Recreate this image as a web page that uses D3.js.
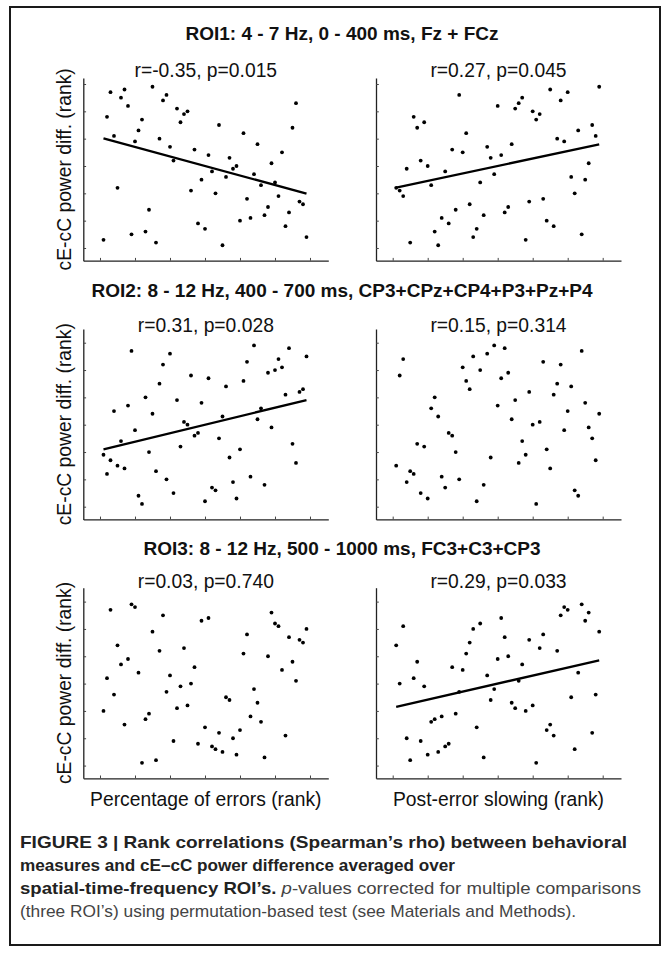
<!DOCTYPE html>
<html><head><meta charset="utf-8">
<script src="https://cdn.jsdelivr.net/npm/d3@7/dist/d3.min.js"></script>
<style>html,body{margin:0;padding:0;background:#fff;} svg{display:block;}</style>
</head><body>
<script>
// ---------------- DATA ----------------
const xRank = [1,2,3,4,5,6,7,8,9,10,11,12,13,14,15,16,17,18,19,20,21,22,23,24,25,26,27,28,29,30,
  31,32,33,34,35,36,37,38,39,40,41,42,43,44,45,46,47,48,49,50,51,52,53,54,55,56,57,58,59];
const roi1Errors  = [3,48,57,41,22,55,58,52,5,39,43,47,6,14,59,2,40,54,56,37,32,51,46,49,50,21,36,9,25,7,34,28,20,45,1,26,33,29,30,10,42,18,11,27,38,23,12,15,31,24,19,35,8,13,44,53,17,16,4];
const roi1Slowing = [22,21,19,29,2,48,44,32,46,30,23,6,1,11,28,9,36,14,56,35,42,16,4,7,24,12,37,33,27,52,34,13,15,38,51,53,55,3,17,50,47,49,18,10,58,8,40,54,39,57,26,20,43,5,25,31,45,41,59];
const roi2Errors  = [19,12,17,35,15,24,14,37,57,28,4,1,40,20,34,13,45,52,10,56,5,39,22,31,30,48,26,27,38,2,47,7,6,25,33,44,18,9,3,21,46,53,11,59,32,36,8,49,29,50,54,51,41,58,23,16,42,43,55];
const roi2Slowing = [15,48,54,9,13,12,23,5,22,3,36,40,33,11,7,27,26,20,10,51,46,43,55,2,50,8,56,18,59,37,47,58,49,32,39,16,24,19,42,30,1,31,53,21,14,41,45,52,28,35,44,6,4,57,38,29,25,17,34];
const roi3Errors  = [20,32,57,26,44,37,15,39,59,58,34,1,17,19,49,2,42,55,27,33,9,21,29,43,22,30,36,8,53,14,54,7,6,12,5,25,24,10,4,13,41,48,18,28,23,16,3,40,56,52,51,35,11,47,38,31,46,45,50];
const roi3Slowing = [44,30,51,10,2,32,38,9,29,4,16,17,5,18,7,8,36,19,27,35,41,45,50,14,52,3,33,24,28,39,54,47,40,23,21,31,37,20,46,22,1,43,48,13,15,11,42,55,58,57,25,6,34,59,53,56,12,26,49];

const roiTitles = ["ROI1: 4 - 7 Hz, 0 - 400 ms, Fz + FCz",
                   "ROI2: 8 - 12 Hz, 400 - 700 ms, CP3+CPz+CP4+P3+Pz+P4",
                   "ROI3: 8 - 12 Hz, 500 - 1000 ms, FC3+C3+CP3"];
const statLabels = [["r=-0.35, p=0.015", "r=0.27, p=0.045"],
                    ["r=0.31, p=0.028",  "r=0.15, p=0.314"],
                    ["r=0.03, p=0.740",  "r=0.29, p=0.033"]];
const showFit = [[true, true], [true, false], [false, true]];
const tickValues = [0, 10, 20, 30, 40, 50, 60];
const xLabels = ["Percentage of errors (rank)", "Post-error slowing (rank)"];
const yLabel = "cE-cC power diff. (rank)";
const panelData = [[roi1Errors, roi1Slowing], [roi2Errors, roi2Slowing], [roi3Errors, roi3Slowing]];

// ---------------- LAYOUT ----------------
const W = 670, H = 953;
const FONT = "'Liberation Sans', Arial, Helvetica, sans-serif";
const cols = [{l: 83.3, r: 328.3}, {l: 376, r: 621}];
const rows = [
  {bottom: 260.7, top: 78,    titleY: 40,    statY: 77},
  {bottom: 519.4, top: 329,   titleY: 297.3, statY: 331.7},
  {bottom: 778.3, top: 587.7, titleY: 555,   statY: 588.3}
];
const xDomain = [-4.77, 65.23];
const pxPerRankY = 2.733, yMin = -4.65;

const svg = d3.select("body").append("svg").attr("width", W).attr("height", H);
svg.append("rect").attr("x", 0).attr("y", 0).attr("width", W).attr("height", H).attr("fill", "#fff");
svg.append("rect").attr("x", 10).attr("y", 7).attr("width", 650).attr("height", 938)
   .attr("fill", "none").attr("stroke", "#1a1a1a").attr("stroke-width", 2);

function fit(xs, ys) {
  const mx = d3.mean(xs), my = d3.mean(ys);
  let sxy = 0, sxx = 0;
  xs.forEach((x, i) => { sxy += (x - mx) * (ys[i] - my); sxx += (x - mx) * (x - mx); });
  const b = sxy / sxx;
  return {a: my - b * mx, b};
}

rows.forEach((row, ri) => {
  svg.append("text").attr("x", 342).attr("y", row.titleY).attr("text-anchor", "middle")
     .attr("font-family", FONT).attr("font-size", 19).attr("font-weight", "bold").attr("fill", "#111")
     .text(roiTitles[ri]);
  const yMax = yMin + (row.bottom - row.top) / pxPerRankY;
  const y = d3.scaleLinear().domain([yMin, yMax]).range([row.bottom, row.top]);

  svg.append("text").attr("transform", `translate(71,${(row.top + row.bottom) / 2}) rotate(-90)`)
     .attr("text-anchor", "middle").attr("font-family", FONT).attr("font-size", 19.3).attr("fill", "#111")
     .text(yLabel);

  cols.forEach((col, ci) => {
    const x = d3.scaleLinear().domain(xDomain).range([col.l, col.r]);
    const g = svg.append("g");
    const ys = panelData[ri][ci];

    g.append("text").attr("x", (col.l + col.r) / 2).attr("y", row.statY).attr("text-anchor", "middle")
     .attr("font-family", FONT).attr("font-size", 19.3).attr("fill", "#111").text(statLabels[ri][ci]);

    const ax = g.append("g").attr("transform", `translate(0,${row.bottom})`)
      .call(d3.axisBottom(x).tickValues(tickValues).tickSizeInner(-2.8).tickSizeOuter(0).tickFormat(""));
    const ay = g.append("g").attr("transform", `translate(${col.l},0)`)
      .call(d3.axisLeft(y).tickValues(tickValues).tickSizeInner(-2.8).tickSizeOuter(0).tickFormat(""));
    [ax, ay].forEach(a => {
      a.select(".domain").attr("stroke", "#222").attr("stroke-width", 1.3);
      a.selectAll(".tick line").attr("stroke", "#444").attr("stroke-width", 1);
    });

    if (showFit[ri][ci]) {
      const f = fit(xRank, ys);
      const x0 = d3.min(xRank), x1 = d3.max(xRank);
      g.append("line").attr("x1", x(x0)).attr("y1", y(f.a + f.b * x0))
       .attr("x2", x(x1)).attr("y2", y(f.a + f.b * x1))
       .attr("stroke", "#000").attr("stroke-width", 2.3);
    }

    g.selectAll("circle").data(ys).join("circle")
     .attr("cx", (d, i) => x(xRank[i])).attr("cy", d => y(d)).attr("r", 1.9).attr("fill", "#000");

    if (ri === rows.length - 1) {
      svg.append("text").attr("x", (col.l + col.r) / 2).attr("y", 806).attr("text-anchor", "middle")
         .attr("font-family", FONT).attr("font-size", 19.3).attr("fill", "#111").text(xLabels[ci]);
    }
  });
});

// ---------------- CAPTION ----------------
const capLines = [
  {y: 848, len: 607, parts: [{t: "FIGURE 3 | Rank correlations (Spearman’s rho) between behavioral", b: true}]},
  {y: 871, len: 435, parts: [{t: "measures and cE–cC power difference averaged over", b: true}]},
  {y: 894, len: 621, parts: [{t: "spatial-time-frequency ROI’s.", b: true}, {t: " p", i: true}, {t: "-values corrected for multiple comparisons"}]},
  {y: 917, len: 556, parts: [{t: "(three ROI’s) using permutation-based test (see Materials and Methods)."}]}
];
capLines.forEach(line => {
  const t = svg.append("text").attr("x", 20).attr("y", line.y).attr("font-family", FONT).attr("font-size", 17)
    .attr("textLength", line.len).attr("lengthAdjust", "spacingAndGlyphs");
  line.parts.forEach(p => {
    t.append("tspan").text(p.t)
     .attr("font-weight", p.b ? "bold" : "normal")
     .attr("font-style", p.i ? "italic" : "normal")
     .attr("fill", p.b ? "#222" : "#444");
  });
});
</script>
</body></html>
